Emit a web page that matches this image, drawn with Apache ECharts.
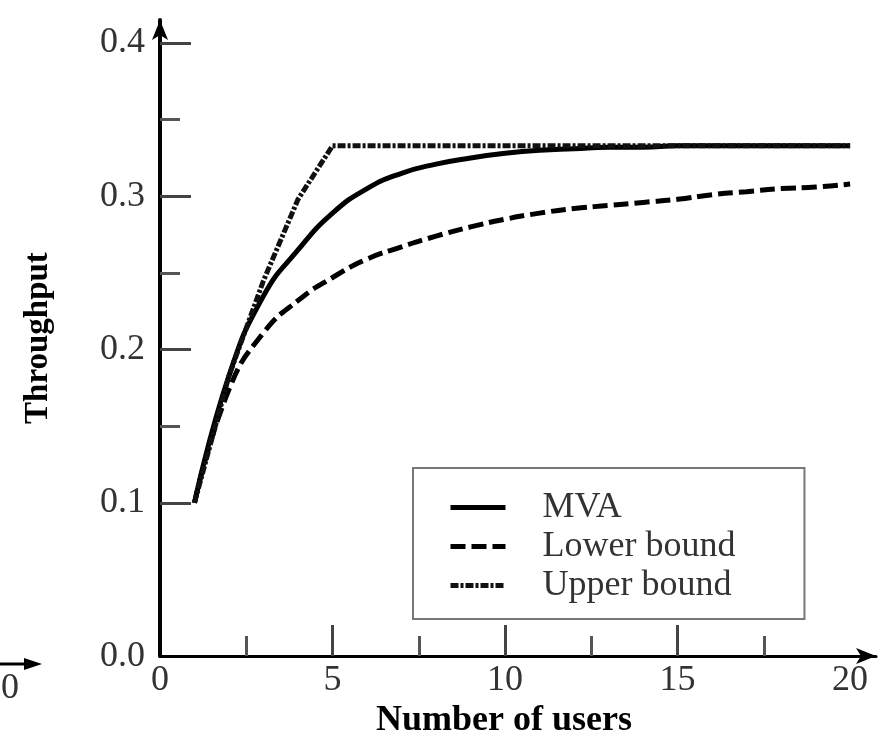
<!DOCTYPE html>
<html>
<head>
<meta charset="utf-8">
<script src="https://cdn.jsdelivr.net/npm/echarts@6/dist/echarts.min.js"></script>
<style>
html,body{margin:0;padding:0;background:#fff;}
#chart{width:886px;height:744px;}
</style>
</head>
<body>
<div id="chart"></div>
<script>
// ---- data ----
var users = [1,2,3,4,5,6,7,8,9,10,11,12,13,14,15,16,17,18,19,20];
var mva   = [0.100,0.183,0.235,0.265,0.289,0.305,0.315,0.321,0.325,0.328,0.330,0.331,0.332,0.332,0.333,0.333,0.333,0.333,0.333,0.333];
var lower = [0.100,0.174,0.211,0.232,0.247,0.259,0.267,0.274,0.280,0.285,0.289,0.292,0.294,0.296,0.298,0.301,0.303,0.305,0.306,0.308];
var upper = [0.100,0.183,0.245,0.298,0.333,0.333,0.333,0.333,0.333,0.333,0.333,0.333,0.333,0.333,0.333,0.333,0.333,0.333,0.333,0.333];
var seriesNames = ['MVA','Lower bound','Upper bound'];
var xLabelValues = [0,5,10,15,20];
var xMajorTicks = [5,10,15];
var xMinorTicks = [2.5,7.5,12.5,17.5];
var yLabelValues = [0,0.1,0.2,0.3,0.4];
var yMajorTicks = [0.1,0.2,0.3,0.4];
var yMinorTicks = [0.15,0.25,0.35];
var xTitle = 'Number of users';
var yTitle = 'Throughput';

function pairs(xs, ys){ return xs.map(function(x,i){ return [x, ys[i]]; }); }

var serif = '"Liberation Serif","DejaVu Serif",serif';
var chart = echarts.init(document.getElementById('chart'));

var xMax = 20.75, yMax = 0.415;

chart.setOption({
  animation:false,
  backgroundColor:'#fff',
  grid:{left:160, right:10, top:20, bottom:80, containLabel:false},
  xAxis:[{
    type:'value', min:0, max:xMax,
    axisLine:{show:true, lineStyle:{color:'#000', width:3}, symbol:['none','arrow'], symbolSize:[12,20]},
    axisTick:{show:true, inside:true, length:31, lineStyle:{color:'#444', width:3}, customValues:xMajorTicks},
    axisLabel:{show:true, customValues:xLabelValues, margin:6, color:'#333', fontFamily:serif, fontSize:36},
    splitLine:{show:false},
    name:xTitle, nameLocation:'middle', nameGap:45,
    nameTextStyle:{fontFamily:serif, fontSize:36, fontWeight:'bold', color:'#000', padding:[0,28,0,0]}
  },{
    type:'value', min:0, max:xMax, position:'bottom',
    axisLine:{show:false},
    axisTick:{show:true, inside:true, length:20, lineStyle:{color:'#555', width:3}, customValues:xMinorTicks},
    axisLabel:{show:false},
    splitLine:{show:false}
  }],
  yAxis:[{
    type:'value', min:0, max:yMax,
    axisLine:{show:true, lineStyle:{color:'#000', width:4}, symbol:['none','arrow'], symbolSize:[12,20]},
    axisTick:{show:true, inside:true, length:31, lineStyle:{color:'#444', width:3}, customValues:yMajorTicks},
    axisLabel:{show:true, customValues:yLabelValues, margin:15, color:'#333', fontFamily:serif, fontSize:36,
      formatter:function(v){ return v.toFixed(1); }},
    splitLine:{show:false},
    name:yTitle, nameLocation:'middle', nameGap:105, nameRotate:90,
    nameTextStyle:{fontFamily:serif, fontSize:33, fontWeight:'bold', color:'#000'}
  },{
    type:'value', min:0, max:yMax, position:'left',
    axisLine:{show:false},
    axisTick:{show:true, inside:true, length:20, lineStyle:{color:'#555', width:3}, customValues:yMinorTicks},
    axisLabel:{show:false},
    splitLine:{show:false}
  }],
  legend:{
    show:true, orient:'vertical', left:413, top:468,
    padding:[21,69,15,35], itemWidth:55, itemHeight:2, itemGap:2,
    borderColor:'#777', borderWidth:2, backgroundColor:'#fff',
    data:seriesNames,
    itemStyle:{opacity:0},
    lineStyle:{width:5},
    textStyle:{fontFamily:serif, fontSize:36, color:'#333', lineHeight:37, padding:[0,0,0,32]}
  },
  series:[{
    name:seriesNames[0], type:'line', data:pairs(users, mva), showSymbol:false, symbol:'none',
    smooth:0.5, color:'#000',
    lineStyle:{color:'#000', width:5, type:'solid'}, z:3
  },{
    name:seriesNames[1], type:'line', data:pairs(users, lower), showSymbol:false, symbol:'none',
    smooth:0.5, color:'#000',
    lineStyle:{color:'#000', width:5, type:[15,6]}, z:2
  },{
    name:seriesNames[2], type:'line', data:pairs(users, upper), showSymbol:false, symbol:'none',
    smooth:false, color:'#000',
    lineStyle:{color:'#111', width:5, type:[8,2,3,2]}, z:4
  }],
  graphic:[
    {type:'line', shape:{x1:0, y1:664, x2:30, y2:664}, style:{stroke:'#000', lineWidth:3}},
    {type:'polygon', shape:{points:[[42,664],[24,658],[24,670]]}, style:{fill:'#000'}},
    {type:'text', style:{text:'20', x:19, y:689, align:'right', verticalAlign:'middle', font:'36px "Liberation Serif", serif', fill:'#333'}}
  ]
});
</script>
</body>
</html>
